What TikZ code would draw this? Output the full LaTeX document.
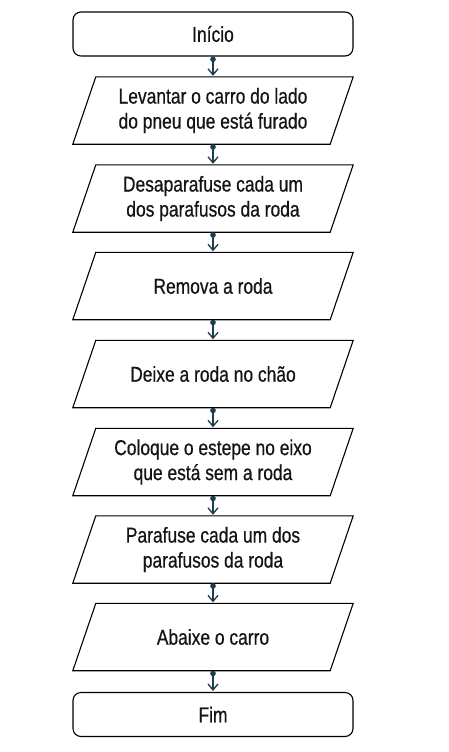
\documentclass[tikz,border=0pt]{standalone}
\usepackage{fontspec}
\setmainfont{Liberation Sans}[FakeStretch=0.81,FakeBold=0.6]
\usetikzlibrary{arrows.meta,calc}
\definecolor{conncol}{HTML}{1D3C4D}
\definecolor{txtcol}{HTML}{141414}
\tikzset{
  txt/.style={font=\fontsize{21.5}{25}\selectfont, text=txtcol, align=center, inner sep=0pt},
  termbox/.style={txt, draw=black, line width=1.1pt, rounded corners=8pt, minimum width=280pt, minimum height=44pt},
  parabox/.style={txt, minimum width=280pt, minimum height=67pt},
  parashape/.style={draw=black, line width=1.1pt, line join=miter},
  conn/.style={draw=conncol, line width=1.3pt, {Circle[length=5.5pt]}-{Straight Barb[length=6pt,width=10pt]}, shorten >=1pt}
}
\newcommand\flowpara[3]{%
  \node[parabox] (#1) at (213,#2) {#3};
  \draw[parashape] ($(#1.north west)+(23,0)$) -- (#1.north east) -- ($(#1.south east)+(-23,0)$) -- (#1.south west) -- cycle;
}
\begin{document}
\begin{tikzpicture}[x=1pt,y=-1pt]
\useasboundingbox (0,0) rectangle (449,752);
\node[termbox] (start) at (213,34) {Início};
\flowpara{p1}{110.5}{Levantar o carro do lado\\do pneu que está furado}
\flowpara{p2}{198.5}{Desaparafuse cada um\\dos parafusos da roda}
\flowpara{p3}{286}{Remova a roda}
\flowpara{p4}{374}{Deixe a roda no chão}
\flowpara{p5}{462}{Coloque o estepe no eixo\\que está sem a roda}
\flowpara{p6}{549.5}{Parafuse cada um dos\\parafusos da roda}
\flowpara{p7}{637}{Abaixe o carro}
\node[termbox] (fim) at (213,714.5) {Fim};
\draw[conn] (start.south) -- (p1.north);
\draw[conn] (p1.south) -- (p2.north);
\draw[conn] (p2.south) -- (p3.north);
\draw[conn] (p3.south) -- (p4.north);
\draw[conn] (p4.south) -- (p5.north);
\draw[conn] (p5.south) -- (p6.north);
\draw[conn] (p6.south) -- (p7.north);
\draw[conn] (p7.south) -- (fim.north);
\end{tikzpicture}
\end{document}
